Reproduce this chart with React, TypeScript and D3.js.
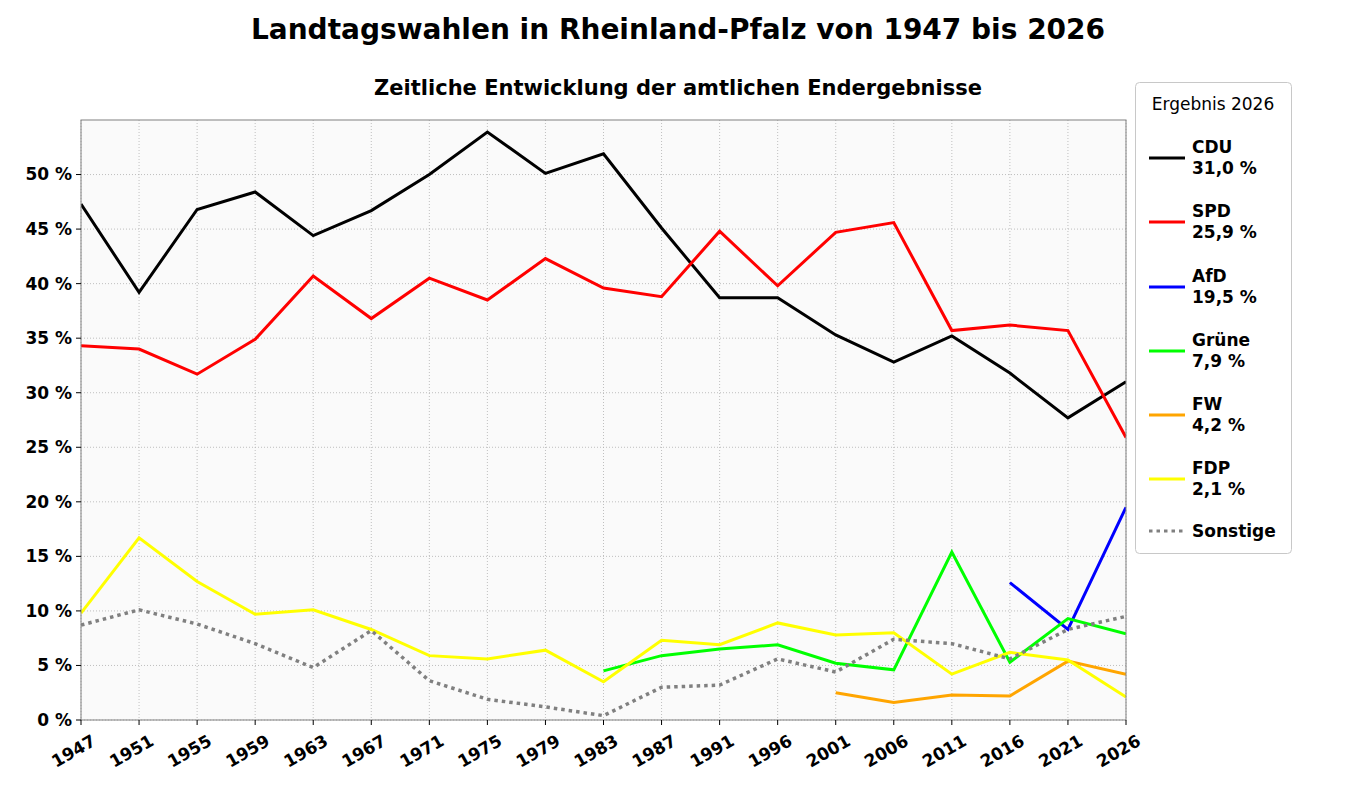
import React from 'react';
import * as d3 from 'd3';

const years = ['1947','1951','1955','1959','1963','1967','1971','1975','1979','1983','1987','1991','1996','2001','2006','2011','2016','2021','2026'];
const cdu = [47.3,39.2,46.8,48.4,44.4,46.7,50.0,53.9,50.1,51.9,45.1,38.7,38.7,35.3,32.8,35.2,31.8,27.7,31.0];
const spd = [34.3,34.0,31.7,34.9,40.7,36.8,40.5,38.5,42.3,39.6,38.8,44.8,39.8,44.7,45.6,35.7,36.2,35.7,25.9];
const afd = [null,null,null,null,null,null,null,null,null,null,null,null,null,null,null,null,12.6,8.3,19.5];
const gruene = [null,null,null,null,null,null,null,null,null,4.5,5.9,6.5,6.9,5.2,4.6,15.4,5.3,9.3,7.9];
const fw = [null,null,null,null,null,null,null,null,null,null,null,null,null,2.5,1.6,2.3,2.2,5.4,4.2];
const fdp = [9.8,16.7,12.7,9.7,10.1,8.3,5.9,5.6,6.4,3.5,7.3,6.9,8.9,7.8,8.0,4.2,6.2,5.5,2.1];
const sonstige = [8.7,10.1,8.8,7.0,4.8,8.2,3.6,1.9,1.2,0.4,3.0,3.2,5.6,4.4,7.4,7.0,5.6,8.3,9.5];
const yTicks = [0,5,10,15,20,25,30,35,40,45,50];

const series = [
  { name: 'CDU', result: '31,0 %', color: '#000000', values: cdu },
  { name: 'SPD', result: '25,9 %', color: '#ff0000', values: spd },
  { name: 'AfD', result: '19,5 %', color: '#0000ff', values: afd },
  { name: 'Grüne', result: '7,9 %', color: '#00ff00', values: gruene },
  { name: 'FW', result: '4,2 %', color: '#ffa500', values: fw },
  { name: 'FDP', result: '2,1 %', color: '#ffff00', values: fdp },
  { name: 'Sonstige', result: '', color: '#808080', values: sonstige, dotted: true },
];

const W = 1357, H = 800;
const L = 81, R = 1126, T = 120, B = 720;

export default function App() {
  const x = d3.scalePoint<string>().domain(years).range([L, R]);
  const y = d3.scaleLinear().domain([0, 55]).range([B, T]);
  const line = d3.line<number | null>()
    .defined(d => d != null)
    .x((_, i) => x(years[i])!)
    .y(d => y(d as number));
  const font = 'DejaVu Sans, sans-serif';
  const legendYs = [158, 222, 287, 351, 415, 479];

  return (
    <svg width={W} height={H} style={{ position: 'absolute', left: 0, top: 0, background: '#fff' }} fontFamily={font}>
      <text x={678} y={39} textAnchor="middle" fontSize={28} fontWeight="bold">Landtagswahlen in Rheinland-Pfalz von 1947 bis 2026</text>
      <text x={678} y={95} textAnchor="middle" fontSize={21} fontWeight="bold">Zeitliche Entwicklung der amtlichen Endergebnisse</text>
      <rect x={L} y={T} width={R - L} height={B - T} fill="#fafafa" />
      <defs>
        <clipPath id="plot"><rect x={L} y={T} width={R - L} height={B - T} /></clipPath>
      </defs>
      {years.map(yr => (
        <line key={yr} x1={x(yr)} x2={x(yr)} y1={T} y2={B} stroke="#b0b0b0" strokeWidth={0.8} strokeDasharray="1,2" />
      ))}
      {yTicks.map(t => (
        <line key={t} x1={L} x2={R} y1={y(t)} y2={y(t)} stroke="#b0b0b0" strokeWidth={0.8} strokeDasharray="1,2" />
      ))}
      <g clipPath="url(#plot)">
        {series.map(s => (
          <path key={s.name} d={line(s.values as (number | null)[]) || ''} fill="none" stroke={s.color}
            strokeWidth={s.dotted ? 3.5 : 3} strokeDasharray={s.dotted ? '3.5,4' : undefined} />
        ))}
      </g>
      <rect x={L} y={T} width={R - L} height={B - T} fill="none" stroke="#808080" strokeWidth={1} />
      {yTicks.map(t => (
        <g key={t}>
          <line x1={L - 5} x2={L} y1={y(t)} y2={y(t)} stroke="#000" />
          <text x={L - 9} y={y(t)} dy="0.35em" textAnchor="end" fontSize={17} fontWeight="bold">{t} %</text>
        </g>
      ))}
      {years.map(yr => (
        <g key={yr}>
          <line x1={x(yr)} x2={x(yr)} y1={B} y2={B + 5} stroke="#000" />
          <text transform={`translate(${x(yr)! + 10},${B + 14}) rotate(-30)`} textAnchor="end" dy="0.7em" fontSize={17} fontWeight="bold">{yr}</text>
        </g>
      ))}
      <rect x={1135.5} y={82.5} width={156} height={471} rx={4} fill="#fff" stroke="#c8c8c8" />
      <text x={1213} y={110} textAnchor="middle" fontSize={17}>Ergebnis 2026</text>
      {series.map((s, i) => {
        const ly = i < 6 ? legendYs[i] : 531;
        return (
          <g key={s.name}>
            <line x1={1149} x2={1185} y1={ly} y2={ly} stroke={s.color} strokeWidth={3}
              strokeDasharray={s.dotted ? '3.5,4' : undefined} />
            {s.result ? (
              <text x={1192} fontSize={17} fontWeight="bold">
                <tspan x={1192} y={ly - 5}>{s.name}</tspan>
                <tspan x={1192} y={ly + 16}>{s.result}</tspan>
              </text>
            ) : (
              <text x={1192} y={ly} dy="0.35em" fontSize={17} fontWeight="bold">{s.name}</text>
            )}
          </g>
        );
      })}
    </svg>
  );
}
